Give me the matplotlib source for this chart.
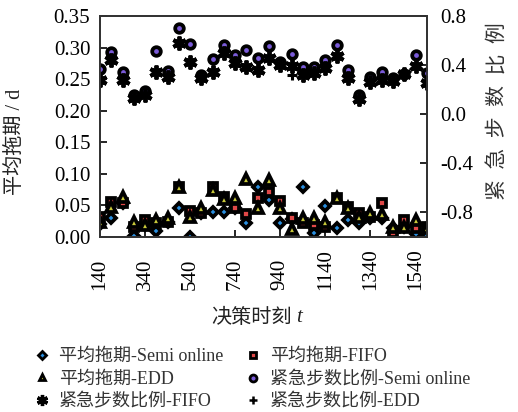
import numpy as np
import matplotlib
matplotlib.use("Agg")
import matplotlib.pyplot as plt
from matplotlib.lines import Line2D

plt.rcParams['font.family'] = ['Liberation Serif', 'Noto Sans CJK SC']

# decision times
t = np.arange(140, 1591, 50)
xticks = [140, 340, 540, 740, 940, 1140, 1340, 1540]

# average tardiness (left axis)
tard_semi = [0.021, 0.030, 0.054, 0.002, 0.019, 0.010, 0.024, 0.046, 0.000, 0.038,
             0.040, 0.040, 0.046, 0.022, 0.079, 0.059, 0.022, 0.029, 0.079, 0.006,
             0.049, 0.014, 0.027, 0.022, 0.030, 0.030, 0.014, 0.016, 0.005, 0.003]
tard_fifo = [0.032, 0.055, 0.054, 0.016, 0.027, 0.022, 0.024, 0.079, 0.041, 0.038,
             0.079, 0.063, 0.046, 0.036, 0.062, 0.071, 0.057, 0.030, 0.022, 0.019,
             0.016, 0.062, 0.048, 0.038, 0.032, 0.054, 0.006, 0.027, 0.014, 0.016]
tard_edd = [0.024, 0.048, 0.063, 0.024, 0.019, 0.027, 0.030, 0.079, 0.032, 0.046,
            0.074, 0.060, 0.062, 0.092, 0.046, 0.090, 0.046, 0.013, 0.030, 0.030,
            0.024, 0.062, 0.046, 0.032, 0.038, 0.036, 0.016, 0.016, 0.027, 0.014]

# urgent step ratio (right axis)
urg_semi = [0.366, 0.505, 0.342, 0.155, 0.187, 0.513, 0.350, 0.700, 0.570, 0.318,
            0.448, 0.562, 0.480, 0.521, 0.456, 0.554, 0.423, 0.489, 0.383, 0.383,
            0.440, 0.562, 0.358, 0.155, 0.301, 0.342, 0.293, 0.326, 0.480, 0.334]
urg_fifo = [0.277, 0.440, 0.277, 0.130, 0.155, 0.342, 0.301, 0.578, 0.423, 0.293,
            0.342, 0.497, 0.415, 0.383, 0.358, 0.456, 0.399, 0.391, 0.318, 0.334,
            0.375, 0.472, 0.293, 0.122, 0.261, 0.277, 0.269, 0.326, 0.391, 0.252]
urg_edd = [0.277, 0.440, 0.277, 0.130, 0.155, 0.342, 0.301, 0.578, 0.423, 0.293,
           0.342, 0.497, 0.415, 0.383, 0.358, 0.456, 0.399, 0.318, 0.318, 0.334,
           0.375, 0.472, 0.293, 0.122, 0.261, 0.277, 0.269, 0.326, 0.391, 0.252]

labels = ['平均拖期-Semi online', '平均拖期-FIFO', '平均拖期-EDD',
          '紧急步数比例-Semi online', '紧急步数比例-FIFO', '紧急步数比例-EDD']

c_semi, c_fifo, c_edd, c_urg = '#2a8fe0', '#e04848', '#c8c83a', '#7a5ad8'

fig = plt.figure(figsize=(5.18, 4.12), dpi=100)
ax = fig.add_axes([0.193, 0.425, 0.631, 0.536])
ax2 = ax.twinx()

mk = dict(ls='none', mec='black', mew=2.7)
ax.plot(t, tard_semi, marker='D', ms=5.5, mfc=c_semi, **mk)
ax.plot(t, tard_fifo, marker='s', ms=6.2, mfc=c_fifo, **mk)
ax.plot(t, tard_edd, marker='^', ms=6.5, mfc=c_edd, **mk)
ax2.plot(t, urg_semi, marker='o', ms=6.2, mfc=c_urg, **mk)
ax2.plot(t, urg_fifo, marker=(6, 2, 0), ms=10, color='black', mew=2.8, ls='none')
ax2.plot(t, urg_edd, marker='+', ms=7, color='black', mew=2.2, ls='none')

ax.set_xlim(140, 1590)
ax.set_ylim(0, 0.35)
yt = np.arange(0, 0.351, 0.05)
ax.set_yticks(yt)
ax.set_yticklabels([f"{v:.2f}" for v in yt])
ax2.set_ylim(-1.0, 0.8)
ax2.set_yticks([-0.8, -0.4, 0.0, 0.4, 0.8])
ax2.set_yticklabels(['-0.8', '-0.4', '0.0', '0.4', '0.8'])

ax.set_xticks(xticks)
ax.set_xticklabels([str(v) for v in xticks])
ax.tick_params(axis='x', direction='in', length=5, width=1.2, pad=38, labelsize=15)
plt.setp(ax.get_xticklabels(), rotation=90, va='bottom', ha='center')
ax.tick_params(axis='y', direction='in', length=5, width=1.2, labelsize=15, pad=7)
ax2.tick_params(axis='y', direction='in', length=5, width=1.2, labelsize=15, pad=10)

for a in (ax, ax2):
    for s in a.spines.values():
        s.set_linewidth(1.3)
        s.set_color('#333333')

ax.set_ylabel('平均拖期 / d', fontsize=14.5, color='#222222')
ax.yaxis.set_label_coords(-0.229, 0.43)
ax2.set_ylabel('紧  急  步  数  比  例', fontsize=15, color='#333333')
ax2.yaxis.set_label_coords(1.19, 0.57)

fig.text(292 / 518, 1 - 318 / 412, '决策时刻', fontsize=14.5, ha='right', va='center',
         color='#222222')
fig.text(296 / 518, 1 - 318 / 412, 't', fontsize=15, style='italic', ha='left',
         va='center', color='#222222')

# legend proxies (smaller markers, as in the original legend)
lk = dict(ls='none', mec='black', mew=2.0)
p_semi = Line2D([], [], marker='D', ms=4, mfc=c_semi, **lk)
p_fifo = Line2D([], [], marker='s', ms=4.5, mfc=c_fifo, **lk)
p_edd = Line2D([], [], marker='^', ms=4.8, mfc=c_edd, **lk)
p_usemi = Line2D([], [], marker='o', ms=5, mfc=c_urg, **lk)
p_ufifo = Line2D([], [], marker=(6, 2, 0), ms=8, color='black', mew=2.4, ls='none')
p_uedd = Line2D([], [], marker='+', ms=5.5, color='black', mew=1.8, ls='none')

handles = [p_semi, p_edd, p_ufifo, p_fifo, p_usemi, p_uedd]
leg_labels = [labels[0], labels[2], labels[4], labels[1], labels[3], labels[5]]
leg = fig.legend(handles, leg_labels, loc='upper left', bbox_to_anchor=(0.05, 0.172),
                 ncol=2, frameon=False, fontsize=13, handlelength=1.0, handletextpad=0.45,
                 columnspacing=1.1, labelspacing=0.3, borderaxespad=0)
for txt in leg.get_texts():
    txt.set_color('#333333')

fig.savefig('out.png', dpi=100)
